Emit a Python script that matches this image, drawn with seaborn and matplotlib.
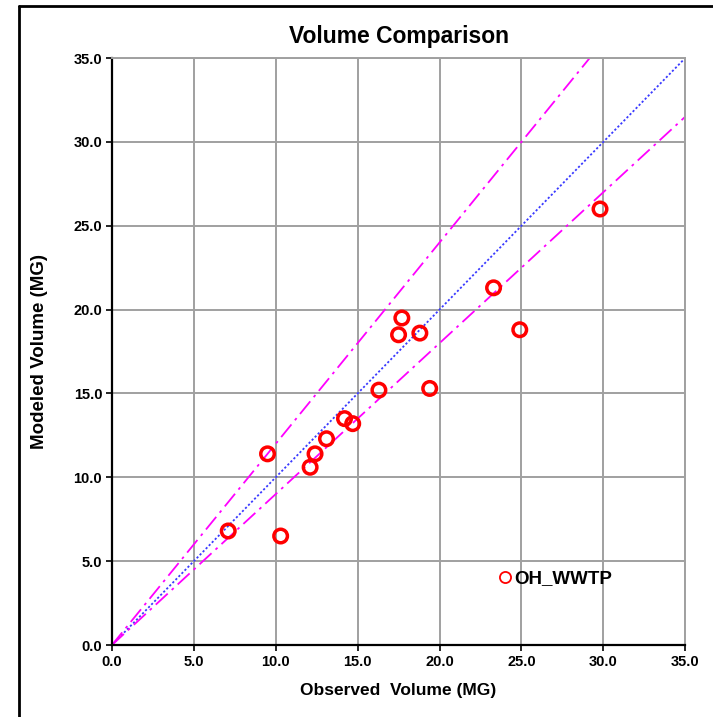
import matplotlib
matplotlib.use("Agg")
import matplotlib.pyplot as plt
from matplotlib.lines import Line2D
import seaborn as sns
import pandas as pd

# ---- data ----
observed = [7.1, 10.3, 9.5, 12.1, 12.4, 13.1, 14.2, 14.7, 16.3, 19.4,
            17.5, 17.7, 18.8, 23.3, 24.9, 29.8]
modeled = [6.8, 6.5, 11.4, 10.6, 11.4, 12.3, 13.5, 13.2, 15.2, 15.3,
           18.5, 19.5, 18.6, 21.3, 18.8, 26.0]
series_name = "OH_WWTP"
ref_x = [0.0, 35.0]
slope_one = 1.0
slope_upper = 1.2
slope_lower = 0.9
ticks = [0, 5, 10, 15, 20, 25, 30, 35]
tick_labels = ["0.0", "5.0", "10.0", "15.0", "20.0", "25.0", "30.0", "35.0"]

sns.set_theme(style="white")
fam = ["Liberation Sans Narrow", "Liberation Sans", "DejaVu Sans"]
plt.rcParams["font.family"] = fam
plt.rcParams["text.color"] = "black"
plt.rcParams["axes.labelcolor"] = "black"

fig = plt.figure(figsize=(7.13, 7.17), dpi=100)
ax = fig.add_axes([0.157, 0.1004, 0.804, 0.8186])

df = pd.DataFrame({"Observed": observed, "Modeled": modeled, "Series": series_name})

line_df = pd.DataFrame({"x": ref_x})
line_df["one"] = [v * slope_one for v in ref_x]
line_df["up"] = [v * slope_upper for v in ref_x]
line_df["low"] = [v * slope_lower for v in ref_x]

sns.lineplot(data=line_df, x="x", y="one", ax=ax, color="#3a3aff", lw=1.3,
             linestyle=(0, (1.2, 1.2)), zorder=2)
sns.lineplot(data=line_df, x="x", y="up", ax=ax, color="#ff00ff", lw=1.3,
             linestyle=(0, (9, 3, 1.5, 3)), zorder=2)
sns.lineplot(data=line_df, x="x", y="low", ax=ax, color="#ff00ff", lw=1.3,
             linestyle=(0, (9, 3, 1.5, 3)), zorder=2)

sns.scatterplot(data=df, x="Observed", y="Modeled", ax=ax, color="red",
                marker="o", s=95, linewidth=2.5, zorder=3, legend=False)
pts = ax.collections[-1]
pts.set_facecolor("none")
pts.set_edgecolor("red")

ax.set_xlim(0, 35)
ax.set_ylim(0, 35)
ax.set_xticks(ticks)
ax.set_yticks(ticks)
ax.set_xticklabels(tick_labels, fontsize=10.5, fontweight="bold", color="black")
ax.set_yticklabels(tick_labels, fontsize=10.5, fontweight="bold", color="black")
ax.tick_params(axis="both", which="both", direction="out", length=4, width=1.2,
               color="black", bottom=True, left=True, pad=3)
ax.grid(True, color="#a0a0a0", lw=1.4)
ax.set_axisbelow(True)
for s in ["top", "right"]:
    ax.spines[s].set_color("#a0a0a0")
    ax.spines[s].set_linewidth(1.4)
for s in ["left", "bottom"]:
    ax.spines[s].set_color("black")
    ax.spines[s].set_linewidth(1.6)

ax.set_xlabel("Observed  Volume (MG)", fontsize=12.5, fontweight="bold", labelpad=10)
ax.set_ylabel("Modeled Volume (MG)", fontsize=13.5, fontweight="bold", labelpad=18)
ax.set_title("Volume Comparison", fontsize=16.5, fontweight="bold", pad=11)

handle = Line2D([], [], marker="o", linestyle="none", markerfacecolor="none",
                markeredgecolor="red", markersize=8, markeredgewidth=1.3)
ax.legend([handle], [series_name], loc="center left",
          bbox_to_anchor=(0.64, 0.113), frameon=False, handletextpad=0.0,
          handlelength=1.0,
          prop={"family": fam, "weight": "bold", "size": 13.5})

fig.add_artist(Line2D([19 / 713, 19 / 713], [0, 1 - 6 / 717], color="black", lw=2))
fig.add_artist(Line2D([19 / 713, 1], [1 - 6 / 717, 1 - 6 / 717], color="black", lw=2))

fig.savefig("out.png", dpi=100)
